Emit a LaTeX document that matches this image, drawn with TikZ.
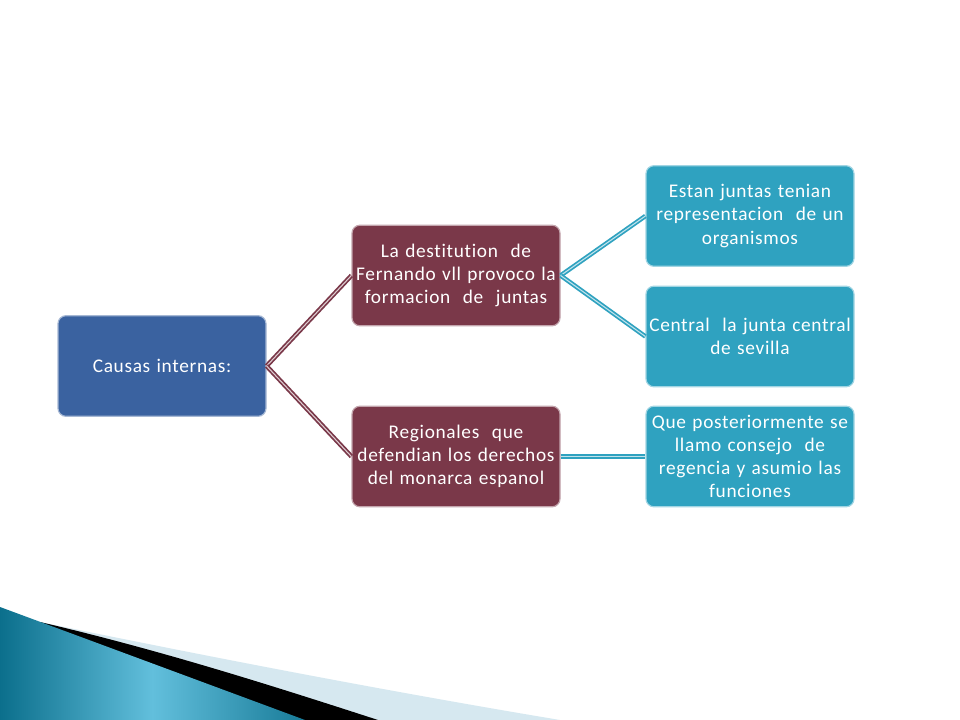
\documentclass[tikz,border=0pt]{standalone}
\usepackage{fontspec}
\setmainfont[LetterSpace=3.5,WordSpace=1.25,RawFeature=-liga]{Carlito}
\definecolor{cblue}{HTML}{3A62A0}
\definecolor{cmaroon}{HTML}{7A3849}
\definecolor{cteal}{HTML}{2FA2C0}
\definecolor{cdteal}{HTML}{0B6F8C}
\definecolor{clteal}{HTML}{62BFDC}
\definecolor{cpale}{HTML}{D6E8F0}
\newcommand{\dsp}{\ \ }
\begin{document}
\begin{tikzpicture}[x=0.75pt,y=-0.75pt,
  box/.style={rounded corners=6pt, minimum width=156pt, minimum height=75.5pt,
    inner sep=2pt, align=center, text=white, line width=0.9pt,
    font=\fontsize{14.5}{17.3}\selectfont},
  bluebox/.style={box, fill=cblue, draw=cblue!45!white},
  maroonbox/.style={box, fill=cmaroon, draw=cmaroon!45!white},
  tealbox/.style={box, fill=cteal, draw=cteal!45!white},
  mline/.style={draw=cmaroon, line width=1.3pt, double=cmaroon!25!white, double distance=0.8pt},
  tline/.style={draw=cteal, line width=1.3pt, double=cteal!30!white, double distance=0.8pt}]
\useasboundingbox (0,0) rectangle (960,720);
\fill[white] (0,0) rectangle (960,720);
% bottom swoosh
\fill[cpale] (40,622) .. controls (200,655) and (380,690) .. (560,720) -- (0,720) -- cycle;
\fill[black] (40,622) .. controls (160,650) and (270,685) .. (378,720) -- (0,720) -- cycle;
\shade[left color=cdteal, right color=cdteal!85!clteal, middle color=clteal]
  (0,607) -- (305,720) -- (0,720) -- cycle;
% nodes
\node[bluebox] (causa) at (162,366) {Causas internas:};
\node[maroonbox] (dest) at (456,275.5) {La destitution\dsp de\\Fernando vll provoco la\\formacion\dsp de\dsp juntas};
\node[maroonbox] (reg) at (456,456.5) {Regionales\dsp que\\defendian los derechos\\del monarca espanol};
\node[tealbox] (estan) at (750,216) {Estan juntas tenian\\representacion\dsp de un\\organismos};
\node[tealbox] (central) at (750,336.5) {Central\dsp la junta central\\de sevilla};
\node[tealbox] (que) at (750,456.5) {Que posteriormente se\\llamo consejo\dsp de\\regencia y asumio las\\funciones};
% connectors
\draw[mline] (causa.east) -- (dest.west);
\draw[mline] (causa.east) -- (reg.west);
\draw[tline] (dest.east) -- (estan.west);
\draw[tline] (dest.east) -- (central.west);
\draw[tline] (reg.east) -- (que.west);
\end{tikzpicture}
\end{document}
